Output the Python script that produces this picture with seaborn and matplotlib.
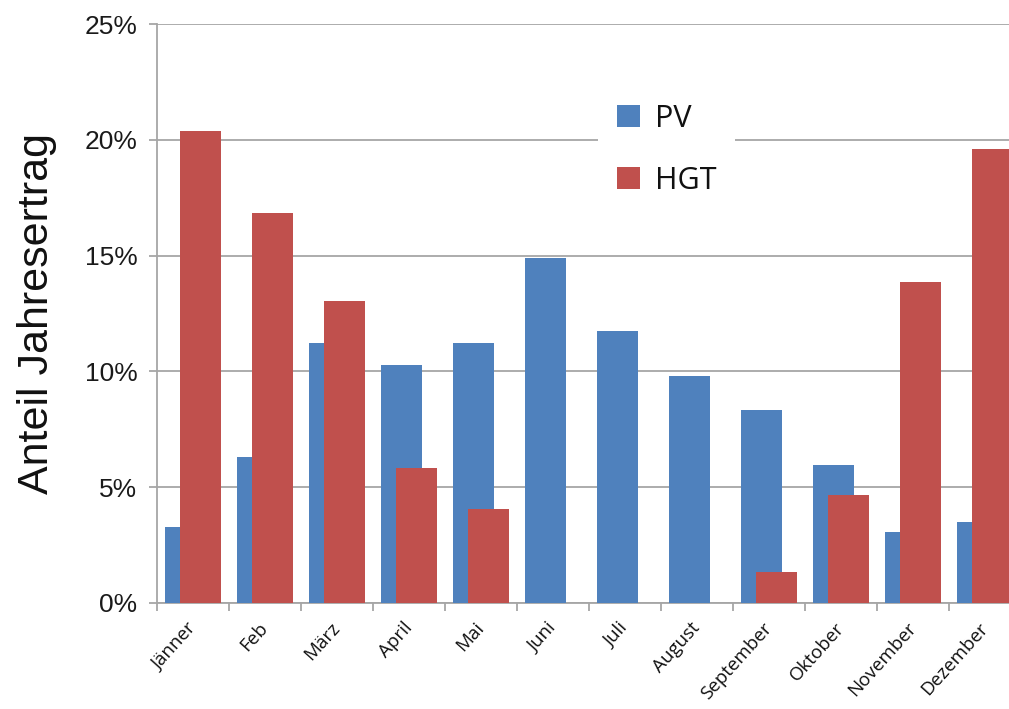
import numpy as np
import pandas as pd
import matplotlib
matplotlib.use("Agg")
import matplotlib.pyplot as plt
import seaborn as sns
from matplotlib.ticker import FuncFormatter, FixedLocator

months = ["Jänner", "Feb", "März", "April", "Mai", "Juni", "Juli",
          "August", "September", "Oktober", "November", "Dezember"]
pv = [3.27, 6.31, 11.23, 10.29, 11.23, 14.90, 11.74, 9.80, 8.33, 5.96, 3.05, 3.49]
hgt = [20.36, 16.82, 13.03, 5.85, 4.06, 0.0, 0.0, 0.0, 1.34, 4.67, 13.86, 19.60]
series = ["PV", "HGT"]
colors = ["#4F81BD", "#C0504D"]

df = pd.DataFrame({
    "Monat": months * 2,
    "Anteil": pv + hgt,
    "Serie": [series[0]] * 12 + [series[1]] * 12,
})

sns.set_style("white")
plt.rcParams["font.family"] = ["Liberation Sans", "DejaVu Sans"]

fig = plt.figure(figsize=(10.09, 7.09), dpi=100)
# plot area runs a little past the right edge, like the cropped original
ax = fig.add_axes([157 / 1009, 106 / 709, 864 / 1009, 579 / 709])

# overlapping bars: negative gap widens each dodged bar past its slot
sns.barplot(data=df, x="Monat", y="Anteil", hue="Serie", order=months,
            hue_order=series, palette=colors, width=0.416, gap=-1.8,
            saturation=1, linewidth=0, ax=ax, zorder=3)

ax.set_ylim(0, 25)
ax.set_xlim(-0.5, 11.5)
ax.yaxis.set_major_locator(FixedLocator([0, 5, 10, 15, 20, 25]))
ax.yaxis.set_major_formatter(FuncFormatter(lambda v, _: f"{v:.0f}%"))
ax.grid(axis="y", color="#A6A6A6", linewidth=1.3, zorder=0)
ax.set_axisbelow(True)

for s in ["top", "right"]:
    ax.spines[s].set_visible(False)
for s in ["left", "bottom"]:
    ax.spines[s].set_color("#A6A6A6")
    ax.spines[s].set_linewidth(1.3)

ax.tick_params(axis="y", which="major", left=True, length=6, width=1.3,
               color="#A6A6A6", labelsize=19, labelcolor="#1a1a1a", pad=8)
ax.tick_params(axis="x", which="major", length=0, pad=16)
ax.set_xticks(np.arange(-0.5, 12, 1), minor=True)
ax.tick_params(axis="x", which="minor", bottom=True, length=6, width=1.3,
               color="#A6A6A6")
ax.set_xticks(range(len(months)))
ax.set_xticklabels(months, rotation=48, ha="right", va="center",
                   rotation_mode="anchor", fontsize=13.5, color="#111111",
                   family=["Open Sans", "DejaVu Sans"])

ax.set_xlabel("")
ax.set_ylabel("Anteil Jahresertrag", fontsize=31, labelpad=20, color="#111111")

leg = ax.legend(loc="upper left", bbox_to_anchor=(426 / 864, 1 - 46 / 579),
                frameon=True, facecolor="white", edgecolor="none",
                framealpha=1, handlelength=0.75, handleheight=0.75,
                handletextpad=0.5, labelspacing=1.05, borderpad=0.6,
                prop={"family": ["Open Sans", "DejaVu Sans"], "size": 22})
leg.set_zorder(5)
for t in leg.get_texts():
    t.set_color("#111111")

fig.savefig("out.png", dpi=100)
